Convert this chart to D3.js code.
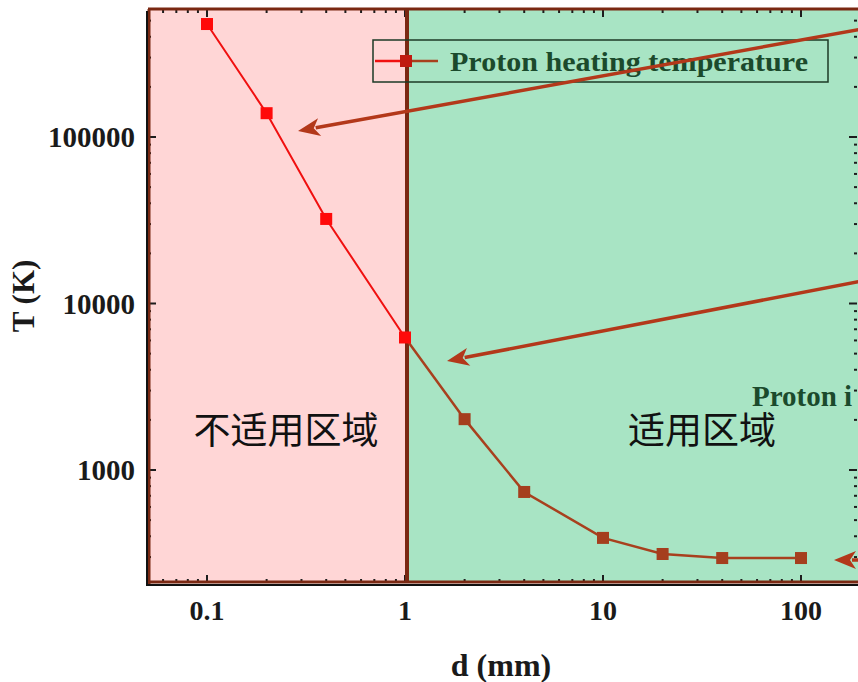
<!DOCTYPE html>
<html><head><meta charset="utf-8">
<script src="https://cdn.jsdelivr.net/npm/d3@7"></script>
<style>body{margin:0;background:#fff}svg{display:block}</style>
</head><body>
<svg id="c" width="858" height="682"></svg>
<script>
const dValues = [0.1, 0.2, 0.4, 1, 2, 4, 10, 20, 40, 100];
const tValues = [477000, 139000, 32200, 6250, 2020, 738, 391, 313, 296, 296];
const xTickValues = [0.1, 1, 10, 100];
const xTickLabels = ["0.1", "1", "10", "100"];
const yTickValues = [1000, 10000, 100000];
const yTickLabels = ["1000", "10000", "100000"];
const legendLabel = "Proton heating temperature";
const sideLabel = "Proton i";
const regionLabels = ["不适用区域", "适用区域"];
const xTitle = "d (mm)";
const yTitle = "T (K)";

const svg = d3.select("#c");
const x = d3.scaleLog().domain([0.1, 100]).range([207, 801]);
const y = d3.scaleLog().domain([1000, 100000]).range([470, 137]);
const L = 148, R = 860, T = 9, B = 583;
const xDiv = x(1) + 2;
const serif = "'Liberation Serif','Times New Roman',serif";
const brown = "#7a2812", arrowC = "#b3381a";

// backgrounds
svg.append("rect").attr("x", L).attr("y", T).attr("width", xDiv - L).attr("height", B - T).attr("fill", "#ffd6d6");
svg.append("rect").attr("x", xDiv).attr("y", T).attr("width", R - xDiv).attr("height", B - T).attr("fill", "#a8e4c4");

// ticks (inside, log minor)
function minors(a, b) { const r = []; for (let e = a; e < b; e++) for (let k = 1; k <= 9; k++) r.push(k * Math.pow(10, e)); return r; }
const xMin = minors(-2, 3).filter(v => x(v) > L + 2 && x(v) < R - 2);
const yMin = minors(2, 6).filter(v => y(v) > T + 2 && y(v) < B - 2);
const tk = svg.append("g").attr("stroke", "#1d1d1d");
function isMajor(v) { return Math.abs(Math.log10(v) - Math.round(Math.log10(v))) < 1e-9; }
xMin.forEach(v => {
  const len = isMajor(v) ? 8 : 4;
  tk.append("line").attr("x1", x(v)).attr("x2", x(v)).attr("y1", B).attr("y2", B - len).attr("stroke-width", 2);
  tk.append("line").attr("x1", x(v)).attr("x2", x(v)).attr("y1", T).attr("y2", T + len).attr("stroke-width", 2);
});
yMin.forEach(v => {
  const len = isMajor(v) ? 8 : 3;
  tk.append("line").attr("y1", y(v)).attr("y2", y(v)).attr("x1", L).attr("x2", L + len).attr("stroke-width", 2);
  tk.append("line").attr("y1", y(v)).attr("y2", y(v)).attr("x1", 857).attr("x2", 857 - len).attr("stroke-width", 2);
});

// frame
svg.append("line").attr("x1", L).attr("x2", R).attr("y1", T).attr("y2", T).attr("stroke", brown).attr("stroke-width", 3);
svg.append("line").attr("x1", L + 1).attr("x2", L + 1).attr("y1", T).attr("y2", B + 2).attr("stroke", brown).attr("stroke-width", 3);
svg.append("line").attr("x1", L - 1).attr("x2", L - 1).attr("y1", T + 2).attr("y2", B + 3).attr("stroke", "#111").attr("stroke-width", 2);
svg.append("line").attr("x1", L).attr("x2", R).attr("y1", B - 1).attr("y2", B - 1).attr("stroke", brown).attr("stroke-width", 3);
svg.append("line").attr("x1", L - 1).attr("x2", R).attr("y1", B + 2).attr("y2", B + 2).attr("stroke", "#111").attr("stroke-width", 2);
svg.append("line").attr("x1", xDiv).attr("x2", xDiv).attr("y1", T).attr("y2", B).attr("stroke", brown).attr("stroke-width", 4);

// tick labels
svg.append("g").selectAll("text").data(xTickValues).join("text")
  .attr("x", d => x(d)).attr("y", 620).attr("text-anchor", "middle")
  .attr("font-family", serif).attr("font-weight", "bold").attr("font-size", 28).attr("fill", "#1a1a1a")
  .text((d, i) => xTickLabels[i]);
svg.append("g").selectAll("text").data(yTickValues).join("text")
  .attr("x", 135).attr("y", d => y(d) + 10).attr("text-anchor", "end")
  .attr("font-family", serif).attr("font-weight", "bold").attr("font-size", 29).attr("fill", "#1a1a1a")
  .text((d, i) => yTickLabels[i]);
svg.append("text").attr("x", 501).attr("y", 676).attr("text-anchor", "middle")
  .attr("font-family", serif).attr("font-weight", "bold").attr("font-size", 32).attr("fill", "#1a1a1a").text(xTitle);
svg.append("text").attr("transform", "translate(34,296) rotate(-90)").attr("text-anchor", "middle")
  .attr("font-family", serif).attr("font-weight", "bold").attr("font-size", 31).attr("fill", "#1a1a1a").text(yTitle);

// region labels
svg.append("text").attr("x", 286).attr("y", 444).attr("text-anchor", "middle")
  .attr("font-family", "'Noto Sans CJK SC',sans-serif").attr("font-size", 37).attr("fill", "#111").text(regionLabels[0]);
svg.append("text").attr("x", 702).attr("y", 444).attr("text-anchor", "middle")
  .attr("font-family", "'Noto Sans CJK SC',sans-serif").attr("font-size", 37).attr("fill", "#111").text(regionLabels[1]);

// data line
const pts = dValues.map((d, i) => [d, tValues[i]]);
const line = d3.line().x(p => x(p[0])).y(p => y(p[1]));
const redPts = pts.filter(p => p[0] <= 1), brPts = pts.filter(p => p[0] >= 1);
svg.append("path").attr("d", line(redPts)).attr("fill", "none").attr("stroke", "#f01010").attr("stroke-width", 2);
svg.append("path").attr("d", line(brPts)).attr("fill", "none").attr("stroke", "#a8401e").attr("stroke-width", 2.5);
svg.append("g").selectAll("rect").data(pts).join("rect")
  .attr("x", p => x(p[0]) - 6).attr("y", p => y(p[1]) - 6).attr("width", 12).attr("height", 12)
  .attr("fill", p => p[0] <= 1 ? "#ff0a0a" : "#a53e1e");

// legend
svg.append("rect").attr("x", 373).attr("y", 40).attr("width", 455).attr("height", 42)
  .attr("fill", "none").attr("stroke", "#1d3a26").attr("stroke-width", 1.5);
svg.append("line").attr("x1", 375).attr("x2", 403).attr("y1", 61).attr("y2", 61).attr("stroke", "#f01010").attr("stroke-width", 2.5);
svg.append("line").attr("x1", 410).attr("x2", 438).attr("y1", 61).attr("y2", 61).attr("stroke", "#a8401e").attr("stroke-width", 2.5);
svg.append("rect").attr("x", 400).attr("y", 55).attr("width", 12).attr("height", 12).attr("fill", "#c01a10");
svg.append("text").attr("x", 450).attr("y", 71).attr("font-family", serif).attr("font-weight", "bold")
  .attr("font-size", 27).attr("fill", "#1b4a2c").attr("textLength", 358).attr("lengthAdjust", "spacingAndGlyphs").text(legendLabel);
svg.append("text").attr("x", 752).attr("y", 406).attr("font-family", serif).attr("font-weight", "bold")
  .attr("font-size", 29).attr("fill", "#1b4a2c").text(sideLabel);

// arrows
function arrow(x1, y1, x2, y2) {
  const a = Math.atan2(y2 - y1, x2 - x1), hl = 22, hw = 9;
  const bx = x2 - hl * Math.cos(a), by = y2 - hl * Math.sin(a);
  svg.append("line").attr("x1", x1).attr("y1", y1).attr("x2", bx + 4 * Math.cos(a)).attr("y2", by + 4 * Math.sin(a))
    .attr("stroke", arrowC).attr("stroke-width", 3.5);
  const px = -Math.sin(a), py = Math.cos(a);
  svg.append("path").attr("d", `M${x2},${y2}L${bx + hw * px},${by + hw * py}L${bx + 6 * Math.cos(a)},${by + 6 * Math.sin(a)}L${bx - hw * px},${by - hw * py}Z`).attr("fill", arrowC);
}
arrow(862, 29, 298, 131);
arrow(862, 281, 447, 361);
arrow(870, 560, 834, 560);
</script>
</body></html>
